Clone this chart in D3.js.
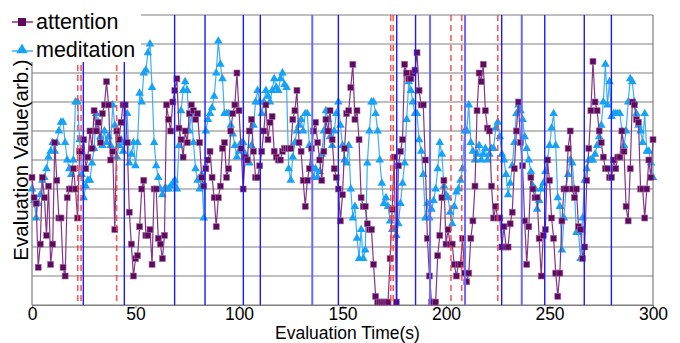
<!DOCTYPE html>
<html><head><meta charset="utf-8">
<script src="https://cdn.jsdelivr.net/npm/d3@7"></script>
<style>body{margin:0;background:#fff;}svg{display:block;font-family:"Liberation Sans",Arial,sans-serif;}</style>
</head><body><svg id="c" width="680" height="343"></svg>
<script>
const xTicks = [0, 50, 100, 150, 200, 250, 300];
const yGrid = [0, 10, 20, 30, 40, 50, 60, 70, 80, 90, 100];
const attention = [
44,37,35,13,21,44,37,24,41,14,
21,56,43,30,30,13,10,37,40,40,
47,40,30,53,53,57,47,51,60,54,
67,60,63,56,66,69,77,69,50,53,
26,60,57,63,69,69,56,32,21,10,
16,17,27,40,43,24,24,26,14,40,
40,23,21,16,24,69,64,60,70,74,
78,61,57,51,60,56,66,69,67,64,
66,56,44,41,47,50,53,44,37,27,
37,41,54,56,44,47,60,66,69,80,
67,54,40,51,50,60,64,53,44,44,
48,53,60,69,57,63,65,53,51,50,
50,53,54,54,54,54,64,67,74,56,
53,43,34,43,47,54,60,63,56,50,
43,53,64,60,67,57,47,44,40,29,
38,54,66,67,75,83,64,67,57,37,
34,34,28,26,26,14,3,1,1,1,
1,1,1,16,33,51,1,48,53,57,
83,80,78,78,80,81,87,74,69,69,
50,23,10,1,1,1,17,24,37,43,
21,26,21,21,14,10,14,14,23,11,
8,11,23,29,41,67,80,77,83,67,
61,60,41,30,34,30,30,20,27,20,
20,28,32,47,60,70,56,48,29,14,
27,44,40,37,37,23,10,24,26,50,
43,30,23,11,3,11,29,40,40,54,
60,40,37,40,27,26,16,20,43,54,
67,84,70,67,60,56,51,47,47,44,
44,50,47,51,51,60,53,34,29,47,
70,69,64,63,40,40,30,40,50,44,
57];
const meditation = [
40,36,30,35,38,43,44,47,51,53,
56,53,56,60,63,63,56,50,47,45,
50,70,70,57,45,37,41,43,43,49,
54,66,63,58,55,60,56,58,55,69,
62,51,55,57,53,56,66,49,52,56,
48,56,73,70,80,81,87,90,75,56,
48,44,40,38,40,40,40,41,42,43,
40,55,67,74,77,74,60,66,56,47,
43,40,45,30,60,64,66,68,72,80,
91,83,78,66,66,66,62,59,55,51,
53,56,56,52,50,49,55,62,70,74,
70,66,70,74,72,70,74,78,75,74,
78,80,76,75,47,43,51,56,60,62,
64,60,66,66,55,48,44,47,44,46,
52,60,67,64,58,55,60,66,70,62,
55,50,49,55,40,30,34,23,16,26,
16,19,49,60,70,70,66,60,50,42,
35,37,34,29,26,26,24,28,35,42,
49,64,77,74,70,66,66,57,53,45,
30,35,30,33,36,40,47,56,52,41,
38,37,32,28,34,39,40,43,47,60,
60,69,56,53,50,52,55,50,52,54,
50,52,54,54,61,63,58,52,50,45,
38,42,48,56,66,69,67,64,58,54,
50,46,41,40,33,36,40,42,46,50,
55,61,66,55,37,34,19,30,40,45,
50,49,40,25,25,16,30,43,47,50,
50,50,52,55,58,62,70,83,69,77,
65,66,66,66,66,60,55,60,70,78,
77,70,66,62,60,56,66,53,53,49,
44];
const redDashed = [22.1, 23.7, 40.9, 173.3, 174.5, 202.4, 207.6, 225.0];
const blueLines = [24.8, 44.6, 68.9, 83.6, 102.1, 110.3, 148.0, 176.2, 185.3, 226.9, 247.7, 266.8, 279.9];
const lightBlueLines = [135.4, 192.3, 209.2, 236.6];

const svg = d3.select("#c");
const L = 32, R = 653, T = 15, B = 305;
const x = d3.scaleLinear().domain([0, 300]).range([L, R]);
const y = d3.scaleLinear().domain([0, 100]).range([B, T]);

svg.append("g").selectAll("line").data(yGrid).join("line")
  .attr("x1", L).attr("x2", R).attr("y1", d => y(d)).attr("y2", d => y(d))
  .attr("stroke", "#7f7f7f").attr("stroke-width", 1.2);
svg.append("line").attr("x1", R).attr("x2", R).attr("y1", T).attr("y2", B).attr("stroke", "#7f7f7f").attr("stroke-width", 1.2);

const xAxis = d3.axisBottom(x).tickValues(xTicks).tickSize(3).tickPadding(0).tickFormat(d3.format("d"));
const gx = svg.append("g").attr("transform", `translate(0,${B})`).call(xAxis);
gx.select(".domain").attr("stroke", "#7f7f7f").attr("stroke-width", 1.2);
gx.selectAll(".tick line").attr("stroke", "#7f7f7f");
gx.selectAll("text").attr("font-size", 17.5).attr("fill", "#000").attr("font-family", "Liberation Sans, Arial, sans-serif");
svg.append("line").attr("x1", L).attr("x2", L).attr("y1", T).attr("y2", B).attr("stroke", "#7f7f7f").attr("stroke-width", 1.2);

const idx = d3.range(attention.length);
const lineA = d3.line().x(i => x(i)).y(i => y(attention[i]));
const lineM = d3.line().x(i => x(i)).y(i => y(meditation[i]));

svg.append("path").attr("d", lineM(idx)).attr("fill", "none").attr("stroke", "#3aaeff").attr("stroke-width", 1.2);
svg.append("g").selectAll("path").data(idx).join("path")
  .attr("d", d3.symbol(d3.symbolTriangle, 32)())
  .attr("transform", i => `translate(${x(i)},${y(meditation[i])})`)
  .attr("fill", "#16a2f5");

svg.append("path").attr("d", lineA(idx)).attr("fill", "none").attr("stroke", "#84348a").attr("stroke-width", 1.2);
svg.append("g").selectAll("rect").data(idx).join("rect")
  .attr("x", i => x(i) - 3).attr("y", i => y(attention[i]) - 3)
  .attr("width", 6).attr("height", 6)
  .attr("fill", "#5e0b5e").attr("stroke", "#a66aa6").attr("stroke-width", 0.6);

svg.append("g").selectAll("line").data(redDashed).join("line")
  .attr("x1", d => x(d)).attr("x2", d => x(d)).attr("y1", T).attr("y2", B)
  .attr("stroke", "#ff3b3b").attr("stroke-width", 1.6).attr("stroke-dasharray", "6,4").attr("opacity", 0.85);
svg.append("g").selectAll("line").data(blueLines).join("line")
  .attr("x1", d => x(d)).attr("x2", d => x(d)).attr("y1", T).attr("y2", B)
  .attr("stroke", "#1a1aff").attr("stroke-width", 1.4);
svg.append("g").selectAll("line").data(lightBlueLines).join("line")
  .attr("x1", d => x(d)).attr("x2", d => x(d)).attr("y1", T).attr("y2", B)
  .attr("stroke", "#6a6aff").attr("stroke-width", 2);

const lg = svg.append("g");
lg.append("rect").attr("x", 0).attr("y", 0).attr("width", 141).attr("height", 62).attr("fill", "#fff");
lg.append("line").attr("x1", 12).attr("x2", 33).attr("y1", 22).attr("y2", 22).attr("stroke", "#84348a").attr("stroke-width", 1.5);
lg.append("rect").attr("x", 18).attr("y", 18).attr("width", 8).attr("height", 8).attr("fill", "#5e0b5e");
lg.append("text").attr("x", 36).attr("y", 29).attr("font-size", 21.5).text("attention");
lg.append("line").attr("x1", 12).attr("x2", 33).attr("y1", 51).attr("y2", 51).attr("stroke", "#3aaeff").attr("stroke-width", 1.5);
lg.append("path").attr("d", d3.symbol(d3.symbolTriangle, 55)()).attr("transform", "translate(22,50)").attr("fill", "#16a2f5");
lg.append("text").attr("x", 36).attr("y", 57).attr("font-size", 21.5).text("meditation");

svg.append("text").attr("x", (L + R) / 2 + 5).attr("y", 339).attr("text-anchor", "middle").attr("font-size", 17.5).text("Evaluation Time(s)");
svg.append("text").attr("transform", `translate(28,${(T + B) / 2}) rotate(-90)`).attr("text-anchor", "middle").attr("font-size", 20.5).text("Evaluation Value(arb.)");
</script></body></html>
